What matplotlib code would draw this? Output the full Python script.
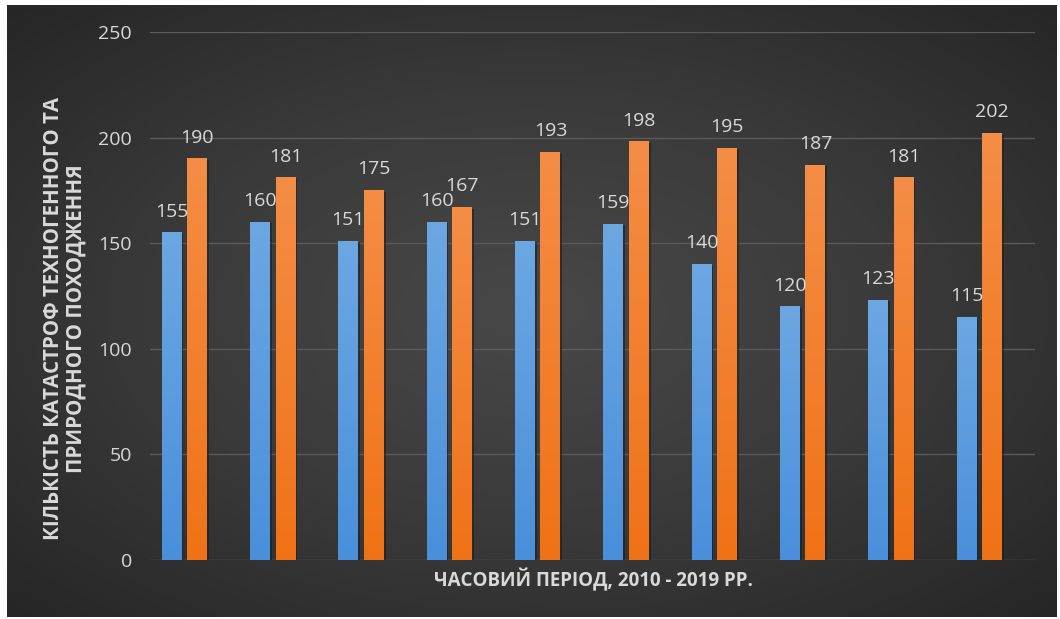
import numpy as np
import matplotlib
matplotlib.use("Agg")
from matplotlib import pyplot as plt
from matplotlib.colors import LinearSegmentedColormap

plt.rcParams['font.family'] = ['Open Sans', 'DejaVu Sans']

years = [2010, 2011, 2012, 2013, 2014, 2015, 2016, 2017, 2018, 2019]
series_blue = [155, 160, 151, 160, 151, 159, 140, 120, 123, 115]
series_orange = [190, 181, 175, 167, 193, 198, 195, 187, 181, 202]
y_ticks = [0, 50, 100, 150, 200, 250]

ylabel = "КІЛЬКІСТЬ КАТАСТРОФ ТЕХНОГЕННОГО ТА\nПРИРОДНОГО ПОХОДЖЕННЯ"
xlabel = "ЧАСОВИЙ ПЕРІОД, 2010 - 2019 РР."

TEXT = "#d9d9d9"
GRID = "#5a5a5a"

fig = plt.figure(figsize=(10.6, 6.19), dpi=100)
fig.patch.set_facecolor("white")

# dark panel with a radial gradient
bg = fig.add_axes([7 / 1060, 1 - 617 / 619, 1050 / 1060, 612 / 619])
bg.set_axis_off()
gx, gy = np.meshgrid(np.linspace(-1, 1, 400), np.linspace(-1, 1, 240))
r = np.clip(np.sqrt(gx ** 2 + gy ** 2) / np.sqrt(2), 0, 1)
bg_cmap = LinearSegmentedColormap.from_list("bg", ["#484848", "#3a3a3a", "#262626"])
bg.imshow(r, cmap=bg_cmap, aspect="auto", extent=(0, 1, 0, 1), vmin=0, vmax=1)

ax = fig.add_axes([150 / 1060, 1 - 560 / 619, 885 / 1060, 528 / 619])
ax.set_facecolor("none")

x = np.arange(len(years))
width = 0.226
offset = 0.144

blue_cmap = LinearSegmentedColormap.from_list("b", ["#4a8fdb", "#6ca7e2"])
orange_cmap = LinearSegmentedColormap.from_list("o", ["#f07216", "#f48d46"])
grad = np.linspace(0, 1, 256).reshape(-1, 1)

for vals, dx, cmap in ((series_blue, -offset, blue_cmap), (series_orange, offset, orange_cmap)):
    bars = ax.bar(x + dx, vals, width, color="none", zorder=3)
    for b, v in zip(bars, vals):
        x0 = b.get_x()
        # soft drop shadow on the right, then the gradient fill
        ax.add_patch(plt.Rectangle((x0 + 0.02, -0.6), width, v, facecolor="#1e1e1e",
                                   edgecolor="none", alpha=0.6, zorder=2.5))
        ax.imshow(grad, cmap=cmap, aspect="auto", origin="lower",
                  extent=(x0, x0 + width, 0, v), zorder=3)
        ax.annotate(str(v), (x0 + width / 2, v), xytext=(0, 11.5), textcoords="offset points",
                    ha="center", va="baseline", color=TEXT, fontsize=14, zorder=4)

ax.set_xlim(-0.39, 9.63)
ax.set_ylim(0, 250)
ax.set_yticks(y_ticks)
ax.set_xticks([])
ax.tick_params(axis="y", length=0, pad=13, labelcolor=TEXT, labelsize=14)
ax.grid(axis="y", color=GRID, linewidth=1, zorder=0)
ax.set_axisbelow(True)
for s in ax.spines.values():
    s.set_visible(False)

fig.text(65 / 1060, 1 - 319 / 619, ylabel, rotation=90, ha="center", va="center",
         color=TEXT, fontsize=14.8, fontweight="bold", multialignment="center",
         linespacing=1.1)
fig.text(593 / 1060, 1 - 580 / 619, xlabel, ha="center", va="center",
         color=TEXT, fontsize=13.5, fontweight="bold")

fig.savefig("out.png", dpi=100)
